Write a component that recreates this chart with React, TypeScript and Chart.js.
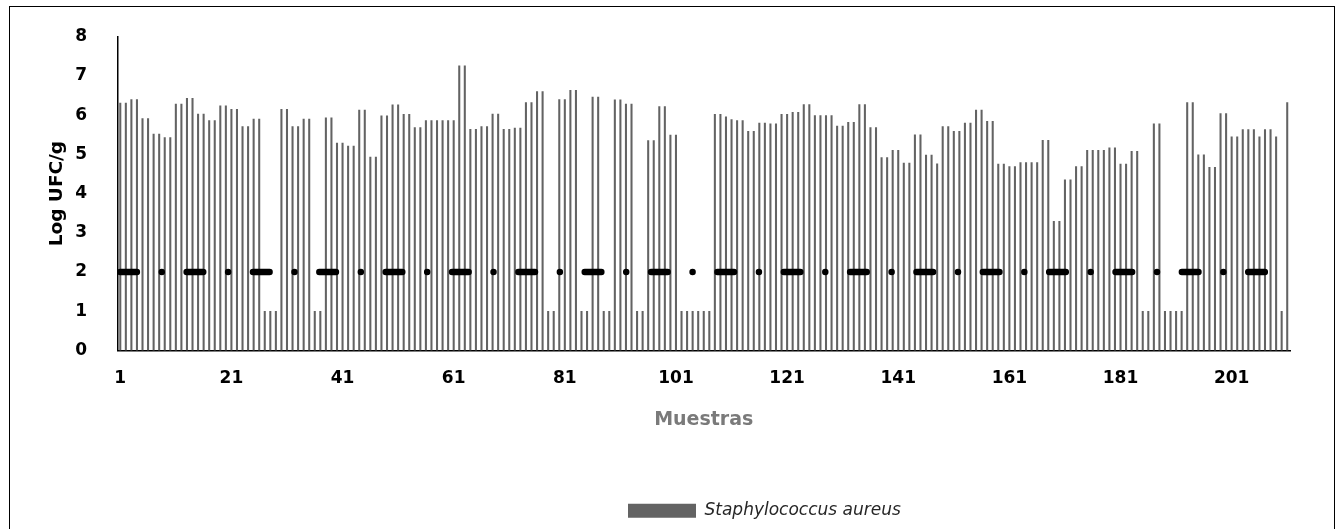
import { useEffect, useRef } from "react";
import { Chart, registerables } from "chart.js";

Chart.register(...registerables);

const sampleCount = 211;
const categories: string[] = Array.from({ length: sampleCount }, (_, i) => String(i + 1));

const staphValues: number[] = [
  6.31, 6.31, 6.40, 6.40, 5.91, 5.91, 5.52, 5.52, 5.43, 5.43,
  6.28, 6.28, 6.43, 6.43, 6.03, 6.03, 5.86, 5.86, 6.24, 6.24,
  6.15, 6.15, 5.71, 5.71, 5.90, 5.90, 1, 1, 1, 6.15,
  6.15, 5.71, 5.71, 5.90, 5.90, 1, 1, 5.93, 5.93, 5.29,
  5.29, 5.21, 5.21, 6.13, 6.13, 4.93, 4.93, 5.98, 5.98, 6.26,
  6.26, 6.02, 6.02, 5.68, 5.68, 5.86, 5.86, 5.86, 5.86, 5.86,
  5.86, 7.26, 7.26, 5.64, 5.64, 5.71, 5.71, 6.03, 6.03, 5.64,
  5.64, 5.67, 5.67, 6.32, 6.32, 6.60, 6.60, 1, 1, 6.40,
  6.40, 6.63, 6.63, 1, 1, 6.46, 6.46, 1, 1, 6.39,
  6.39, 6.28, 6.28, 1, 1, 5.35, 5.35, 6.22, 6.22, 5.49,
  5.49, 1, 1, 1, 1, 1, 1, 6.02, 6.02, 5.96,
  5.89, 5.86, 5.86, 5.59, 5.59, 5.80, 5.80, 5.78, 5.78, 6.02,
  6.02, 6.07, 6.07, 6.27, 6.27, 5.99, 5.99, 5.99, 5.99, 5.72,
  5.72, 5.82, 5.82, 6.27, 6.27, 5.68, 5.68, 4.92, 4.92, 5.10,
  5.10, 4.78, 4.78, 5.50, 5.50, 4.98, 4.98, 4.76, 5.71, 5.71,
  5.59, 5.59, 5.80, 5.80, 6.13, 6.13, 5.84, 5.84, 4.75, 4.75,
  4.69, 4.69, 4.79, 4.79, 4.79, 4.79, 5.36, 5.36, 3.29, 3.29,
  4.35, 4.35, 4.69, 4.69, 5.10, 5.10, 5.10, 5.10, 5.17, 5.17,
  4.75, 4.75, 5.08, 5.08, 1, 1, 5.78, 5.78, 1, 1,
  1, 1, 6.32, 6.32, 4.99, 4.99, 4.67, 4.67, 6.04, 6.04,
  5.45, 5.45, 5.63, 5.63, 5.63, 5.45, 5.63, 5.63, 5.45, 1,
  6.32,
];

const limitLevel = 2;
const limitValues: number[] = categories.map(() => limitLevel);

const seriesName = "Staphylococcus aureus";
const limitName = "Límite";
const xTitle = "Muestras";
const yTitle = "Log UFC/g";
const xLabelEvery = 20;

const FONT = "'DejaVu Sans', sans-serif";

const legendPlacer = {
  id: "legendPlacer",
  afterLayout(chart: any) {
    const lg = chart.legend;
    if (!lg) return;
    const w = lg.right - lg.left;
    lg.left = 608;
    lg.right = 608 + w;
  },
};

export default function App() {
  const ref = useRef<HTMLCanvasElement | null>(null);

  useEffect(() => {
    if (!ref.current) return;
    const chart = new Chart(ref.current, {
      type: "bar",
      data: {
        labels: categories,
        datasets: [
          {
            type: "line",
            label: limitName,
            data: limitValues,
            borderColor: "#000000",
            borderWidth: 6.5,
            borderDash: [16.6, 24.9, 0, 24.85],
            borderCapStyle: "round",
            pointRadius: 0,
            fill: false,
            order: 0,
          } as any,
          {
            type: "bar",
            label: seriesName,
            data: staphValues,
            backgroundColor: "#636363",
            borderWidth: 0,
            barThickness: 1.4,
            order: 1,
          } as any,
        ],
      },
      options: {
        responsive: false,
        animation: false,
        events: [],
        layout: { padding: { top: 29.7, right: 44, bottom: 15.7, left: 0 } },
        plugins: {
          tooltip: { enabled: false },
          legend: {
            position: "bottom",
            align: "start",
            labels: {
              boxWidth: 68,
              boxHeight: 14,
              padding: 10,
              color: "#262626",
              font: { family: FONT, size: 17, style: "italic" },
              filter: (item: any) => item.text === seriesName,
            },
          },
        },
        scales: {
          x: {
            grid: { display: false, drawTicks: true, tickLength: 18 },
            border: { display: true, color: "#000000", width: 1.5 },
            ticks: {
              autoSkip: false,
              maxRotation: 0,
              minRotation: 0,
              padding: 0,
              color: "#000000",
              font: { family: FONT, size: 17, weight: "bold" },
              callback: (_v: any, i: number) => (i % xLabelEvery === 0 ? categories[i] : ""),
            },
            title: {
              display: true,
              text: xTitle,
              color: "#7a7a7a",
              font: { family: FONT, size: 19, weight: "bold" },
              padding: { top: 0, bottom: 60.4 },
            },
            afterFit: (s: any) => {
              s.height = 141.8;
            },
          },
          y: {
            min: 0,
            max: 8,
            grid: { display: false, drawTicks: true, tickLength: 30.5 },
            border: { display: true, color: "#000000", width: 1.5 },
            ticks: {
              stepSize: 1,
              padding: 0,
              color: "#000000",
              font: { family: FONT, size: 17, weight: "bold" },
            },
            title: {
              display: true,
              text: yTitle,
              color: "#000000",
              font: { family: FONT, size: 18.5, weight: "bold" },
              padding: { top: 36, bottom: 0 },
            },
            afterFit: (s: any) => {
              s.width = 107.5;
            },
          },
        },
      },
      plugins: [legendPlacer],
    });
    return () => chart.destroy();
  }, []);

  return (
    <div
      style={{
        position: "absolute",
        left: 9,
        top: 6,
        width: 1326,
        height: 540,
        boxSizing: "border-box",
        border: "1px solid #000",
        background: "#fff",
      }}
    >
      <canvas ref={ref} width={1324} height={538} style={{ display: "block", width: 1324, height: 538 }} />
    </div>
  );
}
